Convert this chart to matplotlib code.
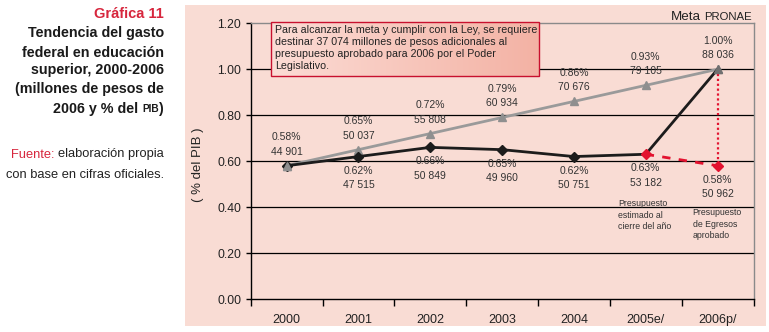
import matplotlib
matplotlib.use("Agg")
import matplotlib.pyplot as plt
from matplotlib.patches import Rectangle
from matplotlib.colors import LinearSegmentedColormap
import numpy as np

plt.rcParams['font.family'] = ['Liberation Sans', 'DejaVu Sans']

# ---------------- data ----------------
years = ["2000", "2001", "2002", "2003", "2004", "2005e/", "2006p/"]
meta_pct = [0.58, 0.65, 0.72, 0.79, 0.86, 0.93, 1.00]
meta_mdp = ["44 901", "50 037", "55 808", "60 934", "70 676", "79 105", "88 036"]
gasto_pct = [0.58, 0.62, 0.66, 0.65, 0.62, 0.63]
gasto_mdp = ["", "47 515", "50 849", "49 960", "50 751", "53 182"]
aprob_pct = [0.63, 0.58]          # 2005e/ -> 2006p/ approved budget
aprob_mdp = ["53 182", "50 962"]
yticks = [0.0, 0.2, 0.4, 0.6, 0.8, 1.0, 1.2]

note_text = ("Para alcanzar la meta y cumplir con la Ley, se requiere\n"
             "destinar 37 074 millones de pesos adicionales al\n"
             "presupuesto aprobado para 2006 por el Poder\n"
             "Legislativo.")

PINK = "#f9dcd4"
RED_T = "#d7263d"
RED = "#e3122f"
GRAY = "#9a9a9a"
DARK = "#1c1c1c"
TXT = "#333333"

W, H = 769, 332
fig = plt.figure(figsize=(W / 100, H / 100), dpi=100)
fx = lambda px: px / W
fy = lambda py: 1 - py / H

fig.patches.append(Rectangle((fx(185), fy(326)), (766 - 185) / W, (326 - 5) / H,
                             transform=fig.transFigure, fc=PINK, ec="none", zorder=-5))

ax = fig.add_axes([fx(250.7), fy(299), 502.8 / W, 275.7 / H])
ax.set_facecolor("none")
ax.set_zorder(2)
x = np.arange(len(years))

# grid lines
for v in yticks[1:-1]:
    ax.axhline(v, color="black", lw=0.9, zorder=1)

# lines
ax.plot(x, meta_pct, color=GRAY, lw=2.0, marker="^", ms=5.5, mfc="#8f8f8f",
        mec="#8f8f8f", zorder=4)
black_y = gasto_pct + [meta_pct[-1]]
ax.plot(x, black_y, color=DARK, lw=2.0, zorder=5)
ax.plot(x[:5], gasto_pct[:5], ls="none", marker="D", ms=5, color=DARK, zorder=6)
ax.plot(x[5:7], aprob_pct, color=RED, lw=2.0, ls=(0, (3, 3)), zorder=5)
ax.plot(x[5:7], aprob_pct, ls="none", marker="D", ms=5.5, color=RED, zorder=7)
ax.plot([x[6], x[6]], [meta_pct[-1], aprob_pct[-1]], color=RED, lw=1.6,
        ls=(0, (1, 1.2)), zorder=4)
ax.plot(x[6], meta_pct[-1], ls="none", marker="^", ms=6, color="#707070", zorder=8)
ax.plot(x[0], meta_pct[0], ls="none", marker="^", ms=5.5, color="#8f8f8f", zorder=7)

# labels
for i, (p, m) in enumerate(zip(meta_pct, meta_mdp)):
    ax.annotate(f"{p:.2f}%\n{m}", (i, p), xytext=(0, 6.5), textcoords="offset points",
                ha="center", va="bottom", fontsize=7.5, color=TXT, linespacing=1.55,
                zorder=9)
for i, (p, m) in enumerate(zip(gasto_pct, gasto_mdp)):
    if i == 0:
        continue
    ax.annotate(f"{p:.2f}%\n{m}", (i, p), xytext=(0, -6.5), textcoords="offset points",
                ha="center", va="top", fontsize=7.5, color=TXT, linespacing=1.55,
                zorder=9)
ax.annotate(f"{aprob_pct[1]:.2f}%\n{aprob_mdp[1]}", (6, aprob_pct[1]), xytext=(0, -6.5),
            textcoords="offset points", ha="center", va="top", fontsize=7.5,
            color=TXT, linespacing=1.55, zorder=9)
ax.annotate("Presupuesto\nestimado al\ncierre del año", (5, gasto_pct[5]),
            xytext=(-20, -32.5), textcoords="offset points", ha="left", va="top",
            fontsize=6.3, color=TXT, linespacing=1.35)
ax.annotate("Presupuesto\nde Egresos\naprobado", (6, aprob_pct[1]),
            xytext=(-18, -30.5), textcoords="offset points", ha="left", va="top",
            fontsize=6.3, color=TXT, linespacing=1.35)

# axes
ax.set_xlim(-0.5, len(years) - 0.5)
ax.set_ylim(0, 1.2)
ax.set_yticks(yticks)
ax.set_yticklabels([f"{v:.2f}" for v in yticks], fontsize=8.8, color="#222222")
ax.set_xticks(np.arange(len(years) + 1) - 0.5)
ax.set_xticklabels([])
ax.set_xticks(x, minor=True)
ax.set_xticklabels(years, minor=True, fontsize=9, color="#222222")
ax.tick_params(axis="x", which="major", length=5, width=1, color="black", direction="out")
ax.tick_params(axis="x", which="minor", length=0, pad=10.5)
ax.tick_params(axis="y", length=3.6, width=1, color="black", pad=3.3)
for s in ["left", "bottom"]:
    ax.spines[s].set_color("black")
    ax.spines[s].set_linewidth(1.0)
for s in ["top", "right"]:
    ax.spines[s].set_color("#8a8a8a")
    ax.spines[s].set_linewidth(1.0)

# annotation box with gradient
bx0 = -0.5 + (270.7 - 250.7) / 502.8 * 7
bx1 = -0.5 + (539 - 250.7) / 502.8 * 7
by0 = (299 - 76) / 275.7 * 1.2
by1 = (299 - 22.3) / 275.7 * 1.2
grad = np.linspace(0, 1, 256).reshape(1, -1)
cmap = LinearSegmentedColormap.from_list("g", ["#fcdcd5", "#f3b2a4"])
ax.imshow(grad, extent=[bx0, bx1, by0, by1], aspect="auto", cmap=cmap, zorder=9,
          clip_on=False)
ax.add_patch(Rectangle((bx0, by0), bx1 - bx0, by1 - by0, fc="none", ec="#c8102e",
                       lw=1.0, zorder=10, clip_on=False))
ax.text(bx0 + 0.055, by1 - 0.013, note_text, ha="left", va="top", fontsize=7.7,
        color="#222222", linespacing=1.24, zorder=11, clip_on=False)
ax.set_xlim(-0.5, len(years) - 0.5)
ax.set_ylim(0, 1.2)

# y label
fig.text(fx(198), fy(165), "( % del PIB )", rotation=90, ha="center", va="center",
         fontsize=9.5, color="#222222")

# --- mixed-font right aligned chains ---
renderer = fig.canvas.get_renderer()


def rchain(x_right, base_py, pieces):
    """pieces: (text, size, weight, color, space_after_px)"""
    xr = x_right
    for text, size, weight, color, gap in reversed(pieces):
        xr = xr - gap
        t = fig.text(fx(xr), fy(base_py), text, ha="right", va="baseline",
                     fontsize=size, fontweight=weight, color=color)
        xr = xr - t.get_window_extent(renderer).width


# left text block
fig.text(fx(164), fy(18.5), "Gráfica 11", ha="right", va="baseline", fontsize=10.5,
         fontweight="bold", color=RED_T)
title_lines = ["Tendencia del gasto", "federal en educación", "superior, 2000-2006",
               "(millones de pesos de"]
for ln, b in zip(title_lines, [37.5, 56.8, 74.3, 93.0]):
    fig.text(fx(164), fy(b), ln, ha="right", va="baseline", fontsize=10.3,
             fontweight="bold", color="#1a1a1a")
rchain(164, 112.5, [("2006 y % del", 10.3, "bold", "#1a1a1a", 3.5),
                    ("PIB", 7.3, "bold", "#1a1a1a", 0.6),
                    (")", 10.3, "bold", "#1a1a1a", 0)])
rchain(164, 157.5, [("Fuente:", 9.3, "normal", RED_T, 3.6),
                    ("elaboración propia", 9.3, "normal", "#222222", 0)])
fig.text(fx(164), fy(177.5), "con base en cifras oficiales.", ha="right",
         va="baseline", fontsize=9.3, color="#222222")

# Meta PRONAE
rchain(752, 20.5, [("Meta", 9.6, "normal", "#222222", 3.6),
                   ("PRONAE", 8.2, "normal", "#222222", 0)])

fig.savefig("out.png", dpi=100)
